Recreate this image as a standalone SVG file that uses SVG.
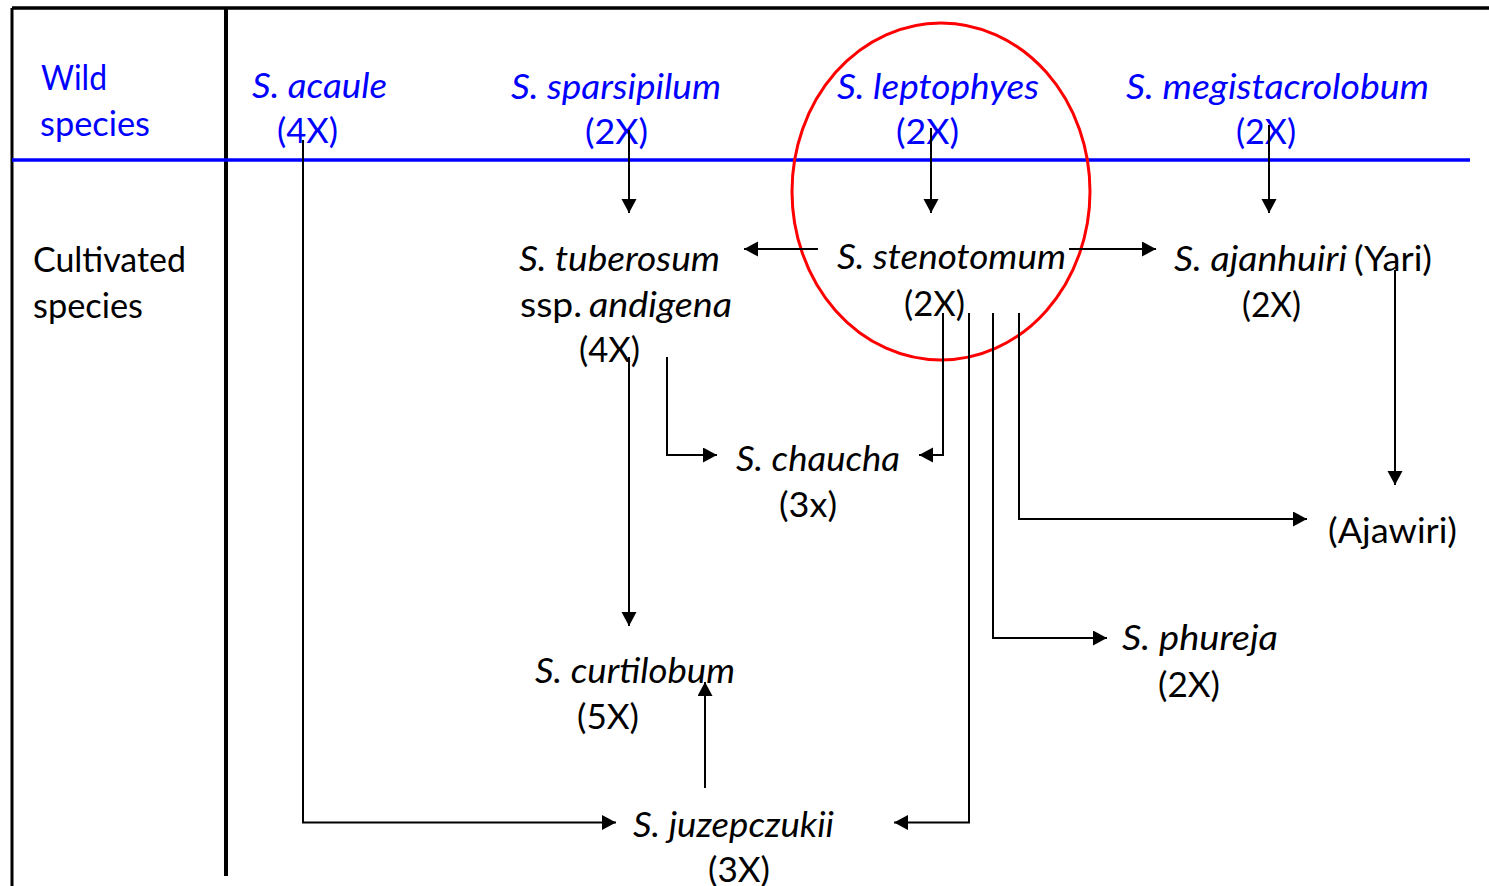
<svg xmlns="http://www.w3.org/2000/svg" width="1489" height="886" viewBox="0 0 1489 886">
  <style>
    text { font-family: Lato, "Open Sans", "Liberation Sans", sans-serif; font-size: 34px; fill: #000; }
    .wild { fill: #0000FF; }
    .it { font-style: italic; }
    .frame { stroke: #000; fill: none; }
    .conn { stroke: #000; stroke-width: 2; fill: none; marker-end: url(#arrow); }
  </style>
  <defs>
    <marker id="arrow" markerUnits="userSpaceOnUse" markerWidth="16" markerHeight="16" refX="14" refY="7.5" orient="auto">
      <path d="M0,0 L14,7.5 L0,15 z" fill="#000"/>
    </marker>
  </defs>
  <rect width="1489" height="886" fill="#fff"/>

  <!-- table frame -->
  <g id="frame">
    <path class="frame" d="M12,8 H1489" stroke-width="3.5"/>
    <path class="frame" d="M12,8 V886" stroke-width="3"/>
    <path class="frame" d="M226,8 V876" stroke-width="4"/>
    <path d="M12,160 H1470" stroke="#0000FF" stroke-width="3.5" fill="none"/>
  </g>

  <!-- row headings -->
  <g id="row-wild">
    <text class="wild" x="41" y="90" textLength="66" lengthAdjust="spacingAndGlyphs">Wild</text>
    <text class="wild" x="40" y="136" textLength="110" lengthAdjust="spacingAndGlyphs">species</text>
  </g>
  <g id="row-cultivated">
    <text x="33" y="272" textLength="153" lengthAdjust="spacingAndGlyphs">Cultivated</text>
    <text x="33" y="318" textLength="110" lengthAdjust="spacingAndGlyphs">species</text>
  </g>

  <!-- highlight around S. leptophyes / S. stenotomum -->
  <ellipse id="highlight" cx="941" cy="191.5" rx="149" ry="168.5" fill="none" stroke="#FF0000" stroke-width="3"/>

  <!-- wild species -->
  <g id="acaule">
    <text class="wild it" x="252" y="98" textLength="135" lengthAdjust="spacingAndGlyphs">S. acaule</text>
    <text class="wild" x="277" y="143" textLength="61" lengthAdjust="spacingAndGlyphs">(4X)</text>
  </g>
  <g id="sparsipilum">
    <text class="wild it" x="511" y="99" textLength="210" lengthAdjust="spacingAndGlyphs">S. sparsipilum</text>
    <text class="wild" x="585" y="144" textLength="63" lengthAdjust="spacingAndGlyphs">(2X)</text>
  </g>
  <g id="leptophyes">
    <text class="wild it" x="837" y="99" textLength="202" lengthAdjust="spacingAndGlyphs">S. leptophyes</text>
    <text class="wild" x="896" y="144" textLength="63" lengthAdjust="spacingAndGlyphs">(2X)</text>
  </g>
  <g id="megistacrolobum">
    <text class="wild it" x="1126" y="99" textLength="303" lengthAdjust="spacingAndGlyphs">S. megistacrolobum</text>
    <text class="wild" x="1236" y="144" textLength="60" lengthAdjust="spacingAndGlyphs">(2X)</text>
  </g>

  <!-- cultivated species -->
  <g id="tuberosum">
    <text class="it" x="519" y="271" textLength="201" lengthAdjust="spacingAndGlyphs">S. tuberosum</text>
    <text x="520" y="317" textLength="62" lengthAdjust="spacingAndGlyphs">ssp.</text>
    <text class="it" x="589" y="317" textLength="143" lengthAdjust="spacingAndGlyphs">andigena</text>
    <text x="579" y="362" textLength="61" lengthAdjust="spacingAndGlyphs">(4X)</text>
  </g>
  <g id="stenotomum">
    <text class="it" x="837" y="269" textLength="229" lengthAdjust="spacingAndGlyphs">S. stenotomum</text>
    <text x="904" y="316" textLength="61" lengthAdjust="spacingAndGlyphs">(2X)</text>
  </g>
  <g id="ajanhuiri">
    <text class="it" x="1174" y="271" textLength="173" lengthAdjust="spacingAndGlyphs">S. ajanhuiri</text>
    <text x="1354" y="271" textLength="78" lengthAdjust="spacingAndGlyphs">(Yari)</text>
    <text x="1242" y="317" textLength="59" lengthAdjust="spacingAndGlyphs">(2X)</text>
  </g>
  <g id="ajawiri">
    <text x="1328" y="543" textLength="129" lengthAdjust="spacingAndGlyphs">(Ajawiri)</text>
  </g>
  <g id="chaucha">
    <text class="it" x="736" y="471" textLength="164" lengthAdjust="spacingAndGlyphs">S. chaucha</text>
    <text x="779" y="517" textLength="58" lengthAdjust="spacingAndGlyphs">(3x)</text>
  </g>
  <g id="curtilobum">
    <text class="it" x="535" y="683" textLength="200" lengthAdjust="spacingAndGlyphs">S. curtilobum</text>
    <text x="577" y="729" textLength="62" lengthAdjust="spacingAndGlyphs">(5X)</text>
  </g>
  <g id="juzepczukii">
    <text class="it" x="633" y="837" textLength="201" lengthAdjust="spacingAndGlyphs">S. juzepczukii</text>
    <text x="708" y="882" textLength="62" lengthAdjust="spacingAndGlyphs">(3X)</text>
  </g>
  <g id="phureja">
    <text class="it" x="1122" y="650" textLength="156" lengthAdjust="spacingAndGlyphs">S. phureja</text>
    <text x="1158" y="697" textLength="62" lengthAdjust="spacingAndGlyphs">(2X)</text>
  </g>

  <!-- connectors -->
  <g id="connectors">
    <path class="conn" d="M303,140 V822.5 H616"/>
    <path class="conn" d="M629,130 V213"/>
    <path class="conn" d="M931,128 V213"/>
    <path class="conn" d="M1269,125 V213"/>
    <path class="conn" d="M818,249 H744"/>
    <path class="conn" d="M1069,249 H1156"/>
    <path class="conn" d="M1395,270 V485"/>
    <path class="conn" d="M943,313 V455 H919"/>
    <path class="conn" d="M969,313 V822.5 H894"/>
    <path class="conn" d="M993,313 V638 H1107"/>
    <path class="conn" d="M1019,313 V519 H1307"/>
    <path class="conn" d="M629,357 V626"/>
    <path class="conn" d="M667,357 V455 H717"/>
    <path class="conn" d="M705,788 V682"/>
  </g>
</svg>
